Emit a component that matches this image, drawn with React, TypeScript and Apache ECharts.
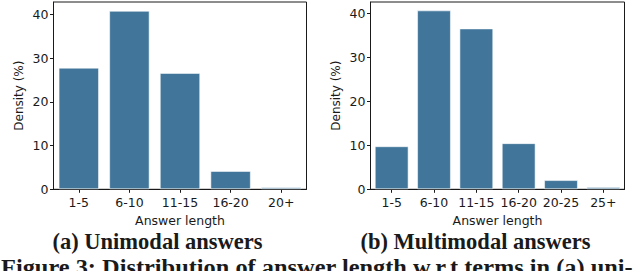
import React, { useEffect, useRef } from "react";
import * as echarts from "echarts";

const catsA = ["1-5", "6-10", "11-15", "16-20", "20+"];
const valsA = [27.8, 40.8, 26.6, 4.2, 0.45];
const catsB = ["1-5", "6-10", "11-15", "16-20", "20-25", "25+"];
const valsB = [9.8, 40.7, 36.6, 10.5, 2.1, 0.5];
const yTicks = [0, 10, 20, 30, 40];
const captionA = "(a) Unimodal answers";
const captionB = "(b) Multimodal answers";
const figCaption = "Figure 3: Distribution of answer length w.r.t terms in (a) uni-";
const xName = "Answer length";
const yName = "Density (%)";

const BAR = "#41769a";
const INK = "#1a1a1a";
const SANS = "DejaVu Sans";
const SERIF = "Liberation Serif";

function xAxisFor(cats: string[], gridIndex: number) {
  return {
    type: "category",
    gridIndex,
    data: cats,
    boundaryGap: true,
    name: xName,
    nameLocation: "middle",
    nameGap: 24,
    nameTextStyle: { fontFamily: SANS, fontSize: 12.5, color: INK },
    axisLine: { show: true, lineStyle: { color: INK, width: 1 } },
    axisTick: { show: true, alignWithLabel: true, length: 3.5, lineStyle: { color: INK, width: 1 } },
    axisLabel: { fontFamily: SANS, fontSize: 12.5, color: INK, margin: 7, interval: 0 },
    splitLine: { show: false },
  };
}

function yAxisFor(gridIndex: number, max: number) {
  return {
    type: "value",
    gridIndex,
    min: 0,
    max,
    interval: 10,
    name: yName,
    nameLocation: "middle",
    nameGap: 29,
    nameTextStyle: { fontFamily: SANS, fontSize: 12, color: INK },
    axisLine: { show: true, lineStyle: { color: INK, width: 1 } },
    axisTick: { show: true, length: 3.5, lineStyle: { color: INK, width: 1 }, customValues: yTicks },
    axisLabel: { fontFamily: SANS, fontSize: 12.5, color: INK, margin: 5, customValues: yTicks },
    splitLine: { show: false },
  };
}

export default function App() {
  const ref = useRef<HTMLDivElement>(null);
  useEffect(() => {
    if (!ref.current) return;
    const chart = echarts.init(ref.current, undefined, { renderer: "svg" });
    chart.setOption({
      animation: false,
      backgroundColor: "#ffffff",
      grid: [
        { left: 53.5, top: 2, width: 253, height: 187.3, show: true, borderColor: INK, borderWidth: 1, containLabel: false },
        { left: 370.5, top: 2, width: 254, height: 187.3, show: true, borderColor: INK, borderWidth: 1, containLabel: false },
      ],
      xAxis: [xAxisFor(catsA, 0), xAxisFor(catsB, 1)],
      yAxis: [yAxisFor(0, 42.8), yAxisFor(1, 42.6)],
      series: [
        {
          type: "bar",
          xAxisIndex: 0,
          yAxisIndex: 0,
          data: valsA,
          barWidth: "80%",
          itemStyle: { color: BAR, borderColor: "rgba(255,255,255,0.55)", borderWidth: 1 },
        },
        {
          type: "bar",
          xAxisIndex: 1,
          yAxisIndex: 1,
          data: valsB,
          barWidth: "80%",
          itemStyle: { color: BAR, borderColor: "rgba(255,255,255,0.55)", borderWidth: 1 },
        },
      ],
      graphic: [
        {
          type: "text",
          x: 157.5,
          y: 241,
          style: { text: captionA, fontFamily: SERIF, fontWeight: "bold", fontSize: 22.5, fill: INK, textAlign: "center", textVerticalAlign: "middle" },
        },
        {
          type: "text",
          x: 475.5,
          y: 241,
          style: { text: captionB, fontFamily: SERIF, fontWeight: "bold", fontSize: 22.5, fill: INK, textAlign: "center", textVerticalAlign: "middle" },
        },
        {
          type: "text",
          x: 1,
          y: 267,
          scaleX: 1.06,
          style: { text: figCaption, fontFamily: SERIF, fontWeight: "bold", fontSize: 23, fill: INK, textAlign: "left", textVerticalAlign: "middle" },
        },
      ],
    });
    return () => chart.dispose();
  }, []);
  return <div ref={ref} style={{ position: "fixed", left: 0, top: 0, width: 640, height: 271 }} />;
}
